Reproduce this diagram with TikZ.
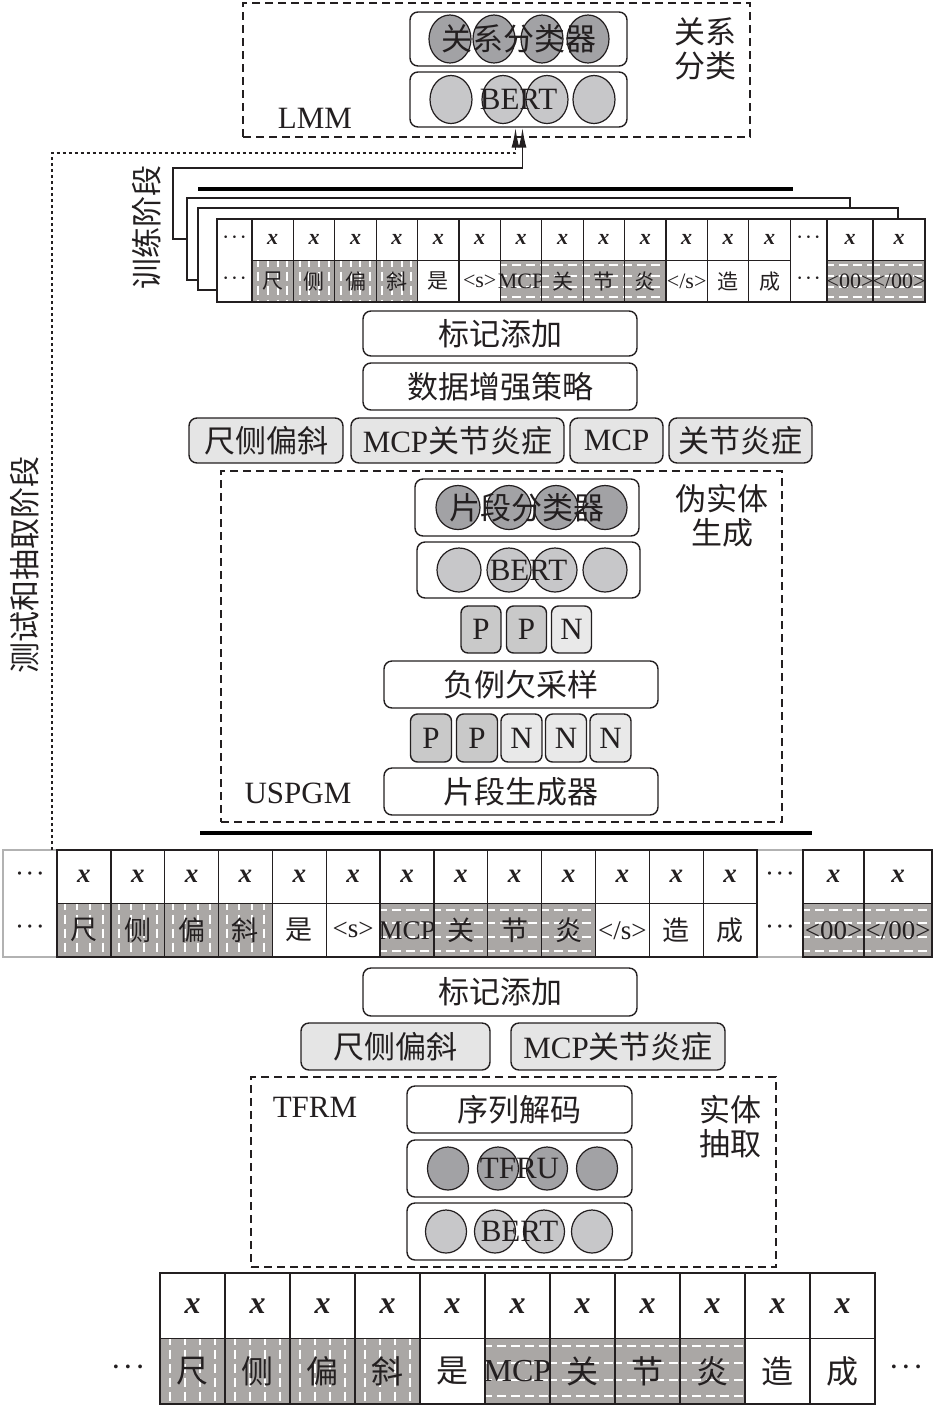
\documentclass[tikz,border=0pt]{standalone}
\usepackage{fontspec}
\setmainfont{Liberation Serif}
\newfontfamily\cjk{Noto Sans CJK SC}
\usetikzlibrary{shapes.geometric,calc,arrows.meta}

\definecolor{ink}{RGB}{35,31,32}
\definecolor{darkball}{RGB}{162,162,165}
\definecolor{lightball}{RGB}{199,199,201}
\definecolor{tagfill}{RGB}{229,229,229}
\definecolor{pfill}{RGB}{201,201,201}
\definecolor{nfill}{RGB}{233,233,233}
\definecolor{cellgray}{RGB}{170,167,165}

\newcommand{\mdots}{·\kern1.5pt·\kern1.5pt·}
\newcommand{\bx}{\textbf{\textit{x}}}
\newcommand{\etag}{</s>}

\tikzset{
  big/.style={font=\fontsize{31}{34}\selectfont},
  bigzh/.style={font=\cjk\fontsize{31}{34}\selectfont},
  module/.style={draw=ink,line width=1.4pt,rounded corners=8pt,fill=white,inner sep=0pt,big},
  tagbox/.style={module,fill=tagfill},
  pbox/.style={module,rounded corners=7pt,fill=pfill},
  nbox/.style={pbox,fill=nfill},
  ball/.style={ellipse,draw=ink,line width=1.2pt,inner sep=0pt},
  darkb/.style={ball,fill=darkball},
  lightb/.style={ball,fill=lightball},
  frame/.style={draw=ink,line width=1.5pt,dash pattern=on 8pt off 5pt,inner sep=0pt},
  card/.style={draw=ink,line width=1.5pt,fill=white,inner sep=0pt},
  cellw/.style={draw=ink,line width=1.3pt,fill=white,inner sep=0pt},
  cellv/.style={cellw,fill=cellgray,path picture={
    \foreach \k in {0.15,0.38,0.62,0.85}
      \draw[white,line width=2pt,dash pattern=on 9pt off 5pt,dash phase=3pt]
        ($(path picture bounding box.north west)!\k!(path picture bounding box.north east)$) --
        ($(path picture bounding box.south west)!\k!(path picture bounding box.south east)$);}},
  cellh/.style={cellw,fill=cellgray,path picture={
    \foreach \k in {0.12,0.37,0.63,0.88}
      \draw[white,line width=2pt,dash pattern=on 9pt off 5pt,dash phase=2pt]
        ($(path picture bounding box.north west)!\k!(path picture bounding box.south west)$) --
        ($(path picture bounding box.north east)!\k!(path picture bounding box.south east)$);}},
  stageline/.style={draw=ink,line width=1.6pt},
  testline/.style={draw=ink,line width=1.6pt,dash pattern=on 3pt off 3pt},
  bar/.style={draw=black,line width=4pt}
}

\begin{document}
\begin{tikzpicture}[x=1pt,y=-1pt,every node/.append style={text=ink}]
\useasboundingbox (0,0) rectangle (934,1409);

\node[frame,minimum width=507,minimum height=134] (lmm) at (496.5,70) {};
\node[module,minimum width=217,minimum height=54] (rcls) at (518.5,39) {};
\node[module,minimum width=217,minimum height=55] (lbert) at (518.5,99.5) {};
\foreach \cx [count=\i] in {450,494,542,588}
  \node[darkb,minimum width=42,minimum height=48] (rc\i) at (\cx,39) {};
\foreach \cx [count=\i] in {451,503,547,594}
  \node[lightb,minimum width=42,minimum height=48] (lb\i) at (\cx,99.5) {};
\node[bigzh] (rclsText) at (rcls) {关系分类器};
\node[big] (lbertText) at (lbert) {BERT};
\node[big] (lmmText) at (315,118) {LMM};
\node[bigzh,align=center] (rcLabel) at (705,49) {关系\\分类};

\draw[bar] (198,189) -- (793,189);
\node[card,minimum width=663,minimum height=82] (card2) at (518.5,239) {};
\node[card,minimum width=700,minimum height=82] (card1) at (548,249) {};
\node[card,minimum width=708,minimum height=83] (card0) at (571,260.5) {};
\begin{scope}[zhT/.style={font=\cjk\fontsize{21}{21}\selectfont},enT/.style={font=\fontsize{22}{22}\selectfont}]
\node[enT] (trd1) at (234.5,239.75) {\mdots};
\node[enT] (trd2) at (234.5,281.25) {\mdots};
\foreach \t/\s/\f [count=\i] in {尺/cellv/zhT,侧/cellv/zhT,偏/cellv/zhT,斜/cellv/zhT,是/cellw/zhT,<s>/cellw/enT,MCP/cellh/enT,关/cellh/zhT,节/cellh/zhT,炎/cellh/zhT,\etag/cellw/enT,造/cellw/zhT,成/cellw/zhT}{
  \node[cellw,enT,minimum width=41.4,minimum height=41.5] (trx\i) at ({252+(\i-0.5)*41.4},239.75) {\bx};
  \node[\s,\f,minimum width=41.4,minimum height=41.5] (tr\i) at ({252+(\i-0.5)*41.4},281.25) {\makebox[0pt]{\t}};
}
\node[enT] (trd3) at (808.5,239.75) {\mdots};
\node[enT] (trd4) at (808.5,281.25) {\mdots};
\node[cellw,enT,minimum width=46,minimum height=41.5] (trx14) at (850,239.75) {\bx};
\node[cellh,enT,minimum width=46,minimum height=41.5] (tr14) at (850,281.25) {\makebox[0pt]{<00>}};
\node[cellw,enT,minimum width=52,minimum height=41.5] (trx15) at (899,239.75) {\bx};
\node[cellh,enT,minimum width=52,minimum height=41.5] (tr15) at (899,281.25) {\makebox[0pt]{</00>}};
\end{scope}

\node[module,minimum width=274,minimum height=45] (mark1) at (500,333.5) {\cjk 标记添加};
\node[module,minimum width=274,minimum height=47] (aug) at (500,386.5) {\cjk 数据增强策略};
\node[tagbox,minimum width=154,minimum height=45] (tagA) at (266,440.5) {\cjk 尺侧偏斜};
\node[tagbox,minimum width=213,minimum height=45] (tagB) at (457.5,440.5) {MCP{\cjk 关节炎症}};
\node[tagbox,minimum width=93,minimum height=45] (tagC) at (616.5,440.5) {MCP};
\node[tagbox,minimum width=143,minimum height=45] (tagD) at (740.5,440.5) {\cjk 关节炎症};

\node[frame,minimum width=561,minimum height=351] (uspgm) at (501.5,646.5) {};
\node[module,minimum width=224,minimum height=57] (scls) at (527,507.5) {};
\node[module,minimum width=223,minimum height=56] (sbert) at (528.5,570) {};
\foreach \cx [count=\i] in {458,509,556,605}
  \node[darkb,minimum size=44] (sc\i) at (\cx,507.5) {};
\foreach \cx [count=\i] in {459,509,555,605}
  \node[lightb,minimum size=44] (sb\i) at (\cx,570) {};
\node[bigzh] (sclsText) at (scls) {片段分类器};
\node[big] (sbertText) at (sbert) {BERT};
\foreach \cx/\s/\t [count=\i] in {481/pbox/P,526.5/pbox/P,571.5/nbox/N}
  \node[\s,minimum width=40,minimum height=47] (ppn\i) at (\cx,629.5) {\t};
\node[module,minimum width=274,minimum height=47] (neg) at (521,684.5) {\cjk 负例欠采样};
\foreach \cx/\s/\t [count=\i] in {431/pbox/P,477/pbox/P,521.5/nbox/N,566/nbox/N,610.5/nbox/N}
  \node[\s,minimum width=41,minimum height=48] (ppnnn\i) at (\cx,738) {\t};
\node[module,minimum width=274,minimum height=47] (gen) at (521,791.5) {\cjk 片段生成器};
\node[big] (uspgmText) at (298,793) {USPGM};
\node[bigzh,align=center] (pseLabel) at (722,515.5) {伪实体\\生成};

\draw[bar] (200,833) -- (812,833);
\node[draw=gray!60,line width=1.3pt,inner sep=0pt,minimum width=929,minimum height=107] (midrow) at (467.5,903.5) {};
\begin{scope}[zhT/.style={font=\cjk\fontsize{27}{27}\selectfont},enT/.style={font=\fontsize{27}{27}\selectfont}]
\node[enT] (mdd1) at (30,876.75) {\mdots};
\node[enT] (mdd2) at (30,930.25) {\mdots};
\foreach \t/\s/\f [count=\i] in {尺/cellv/zhT,侧/cellv/zhT,偏/cellv/zhT,斜/cellv/zhT,是/cellw/zhT,<s>/cellw/enT,MCP/cellh/enT,关/cellh/zhT,节/cellh/zhT,炎/cellh/zhT,\etag/cellw/enT,造/cellw/zhT,成/cellw/zhT}{
  \node[cellw,enT,minimum width=53.85,minimum height=53.5] (mx\i) at ({57+(\i-0.5)*53.85},876.75) {\bx};
  \node[\s,\f,minimum width=53.85,minimum height=53.5] (m\i) at ({57+(\i-0.5)*53.85},930.25) {\makebox[0pt]{\t}};
}
\node[enT] (mdd3) at (780,876.75) {\mdots};
\node[enT] (mdd4) at (780,930.25) {\mdots};
\node[cellw,enT,minimum width=61,minimum height=53.5] (mx14) at (833.5,876.75) {\bx};
\node[cellh,enT,minimum width=61,minimum height=53.5] (m14) at (833.5,930.25) {\makebox[0pt]{<00>}};
\node[cellw,enT,minimum width=68,minimum height=53.5] (mx15) at (898,876.75) {\bx};
\node[cellh,enT,minimum width=68,minimum height=53.5] (m15) at (898,930.25) {\makebox[0pt]{</00>}};
\end{scope}

\node[module,minimum width=274,minimum height=48] (mark2) at (500,992) {\cjk 标记添加};
\node[tagbox,minimum width=189,minimum height=47] (tagE) at (395.5,1046.5) {\cjk 尺侧偏斜};
\node[tagbox,minimum width=214,minimum height=47] (tagF) at (618,1046.5) {MCP{\cjk 关节炎症}};

\node[frame,minimum width=525,minimum height=190] (tfrm) at (513.5,1172) {};
\node[module,minimum width=225,minimum height=47] (decode) at (519.5,1109.5) {\cjk 序列解码};
\node[module,minimum width=225,minimum height=57] (tfru) at (519.5,1168.5) {};
\node[module,minimum width=225,minimum height=57] (tbert) at (519.5,1231.5) {};
\foreach \cx [count=\i] in {448,498,547,597}
  \node[darkb,minimum width=41,minimum height=43] (tu\i) at (\cx,1168.5) {};
\foreach \cx [count=\i] in {446,495,544,592}
  \node[lightb,minimum width=41,minimum height=43] (tb\i) at (\cx,1231.5) {};
\node[big] (tfruText) at (tfru) {TFRU};
\node[big] (tbertText) at (tbert) {BERT};
\node[big] (tfrmText) at (315,1107) {TFRM};
\node[bigzh,align=center] (eeLabel) at (730,1126.5) {实体\\抽取};

\begin{scope}[zhT/.style={font=\cjk\fontsize{32}{32}\selectfont},enT/.style={font=\fontsize{32}{32}\selectfont}]
\node[enT] (bd1) at (128,1371) {\mdots};
\foreach \t/\s/\f [count=\i] in {尺/cellv/zhT,侧/cellv/zhT,偏/cellv/zhT,斜/cellv/zhT,是/cellw/zhT,MCP/cellh/enT,关/cellh/zhT,节/cellh/zhT,炎/cellh/zhT,造/cellw/zhT,成/cellw/zhT}{
  \node[cellw,enT,minimum width=65,minimum height=65.5] (bx\i) at ({160+(\i-0.5)*65},1305.75) {\bx};
  \node[\s,\f,minimum width=65,minimum height=65.5] (b\i) at ({160+(\i-0.5)*65},1371.25) {\makebox[0pt]{\t}};
}
\node[enT] (bd2) at (906,1371) {\mdots};
\end{scope}

\node[bigzh,rotate=90] (trainLabel) at (147,227) {训练阶段};
\node[bigzh,rotate=90] (testLabel) at (25,565) {测试和抽取阶段};
\coordinate (testIn) at (52,850);
\draw[testline,-{Latex[length=20pt,width=8pt]}] (testIn) |- ([xshift=-3pt,yshift=-25pt]lbert.south) -- ([xshift=-3pt]lbert.south);
\draw[stageline,-{Latex[length=20pt,width=8pt]}] (card2.west) -- ++(-13,0) |- ([xshift=4pt,yshift=-40pt]lbert.south) -- ([xshift=4pt]lbert.south);
\end{tikzpicture}
\end{document}
